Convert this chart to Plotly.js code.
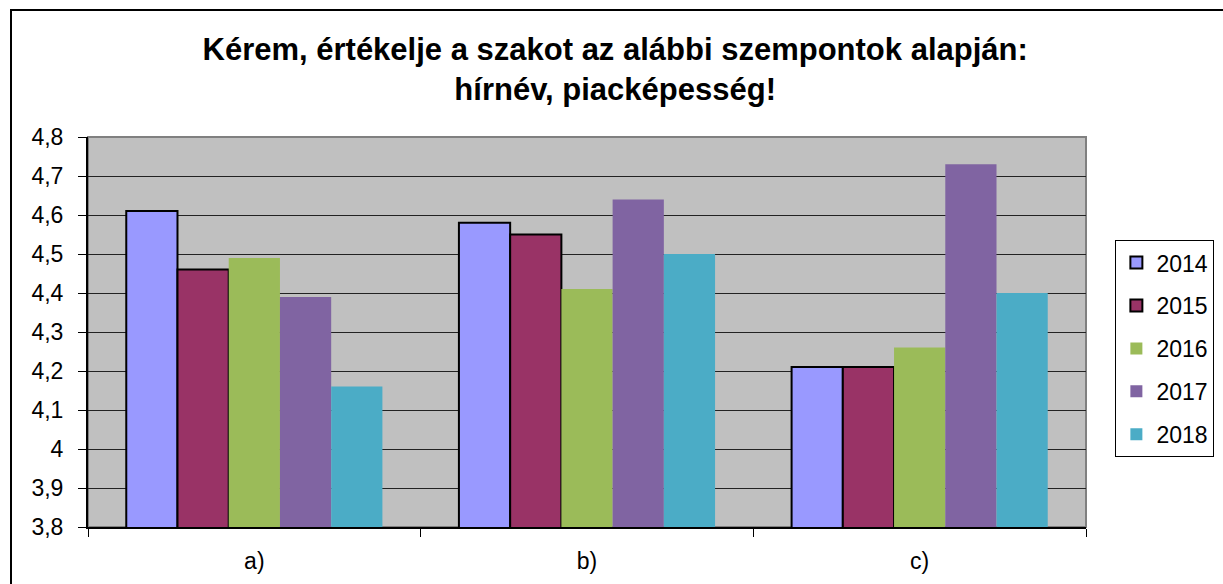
<!DOCTYPE html>
<html>
<head>
<meta charset="utf-8">
<script src="https://cdn.plot.ly/plotly-3.0.1.min.js"></script>
<style>
  html, body { margin: 0; padding: 0; overflow: hidden; background: #fff; }
  #chart { width: 1223px; height: 584px; }
  #frame {
    position: absolute; left: 10px; top: 9px; width: 1300px; height: 700px;
    border-left: 2px solid #000; border-top: 2px solid #000; pointer-events: none;
  }
</style>
</head>
<body>
<div id="chart"></div>
<div id="frame"></div>
<script>
const categories = ['a)', 'b)', 'c)'];
const years = ['2014', '2015', '2016', '2017', '2018'];
const values2014 = [4.61, 4.58, 4.21];
const values2015 = [4.46, 4.55, 4.21];
const values2016 = [4.49, 4.41, 4.26];
const values2017 = [4.39, 4.64, 4.73];
const values2018 = [4.16, 4.50, 4.40];
const seriesValues = [values2014, values2015, values2016, values2017, values2018];
const colors = ['#9999FF', '#993366', '#9BBB59', '#8064A2', '#4BACC6'];
const outlined = [true, true, false, false, false];

const font = 'Liberation Sans, Arial, sans-serif';

const traces = years.map((year, i) => ({
  type: 'bar',
  name: year,
  x: categories,
  y: seriesValues[i],
  legendgroup: year,
  marker: {
    color: colors[i],
    line: outlined[i] ? {color: '#000', width: 2} : {width: 0},
  },
}));

const layout = {
  width: 1223,
  height: 584,
  margin: {l: 88, r: 137, t: 137, b: 57},
  paper_bgcolor: '#fff',
  plot_bgcolor: '#C0C0C0',
  separators: ', ',
  barmode: 'group',
  bargap: 0.23,
  bargroupgap: 0,
  title: {
    text: 'Kérem, értékelje a szakot az alábbi szempontok alapján:<br>hírnév, piacképesség!',
    font: {family: font, size: 31, color: '#000', weight: 'bold'},
    x: 0.503,
    xanchor: 'center',
    y: 0.897,
    yanchor: 'middle',
  },
  xaxis: {
    type: 'category',
    tickson: 'boundaries',
    ticks: 'outside',
    ticklen: 8,
    tickcolor: '#000',
    ticklabelstandoff: 12,
    showline: true,
    linecolor: '#000',
    linewidth: 2,
    showgrid: false,
    tickfont: {family: font, size: 23, color: '#000'},
  },
  yaxis: {
    range: [3.8, 4.8],
    dtick: 0.1,
    tick0: 3.8,
    ticks: 'outside',
    ticklen: 8,
    tickcolor: '#000',
    ticklabelstandoff: 10,
    showline: true,
    linecolor: '#000',
    linewidth: 2,
    gridcolor: '#222',
    gridwidth: 1,
    zeroline: false,
    tickfont: {family: font, size: 23, color: '#000'},
  },
  legend: {
    xref: 'container',
    yref: 'container',
    x: 0.912,
    xanchor: 'left',
    y: 0.403,
    yanchor: 'middle',
    bordercolor: '#000',
    borderwidth: 1,
    tracegroupgap: 10,
    itemwidth: 30,
    font: {family: font, size: 23, color: '#000'},
  },
  shapes: [{
    type: 'rect', xref: 'paper', yref: 'paper',
    x0: 0, x1: 1, y0: 0, y1: 1,
    line: {color: '#808080', width: 2},
    layer: 'below',
  }],
  showlegend: true,
};

Plotly.newPlot('chart', traces, layout, {displayModeBar: false, staticPlot: true});
</script>
</body>
</html>
